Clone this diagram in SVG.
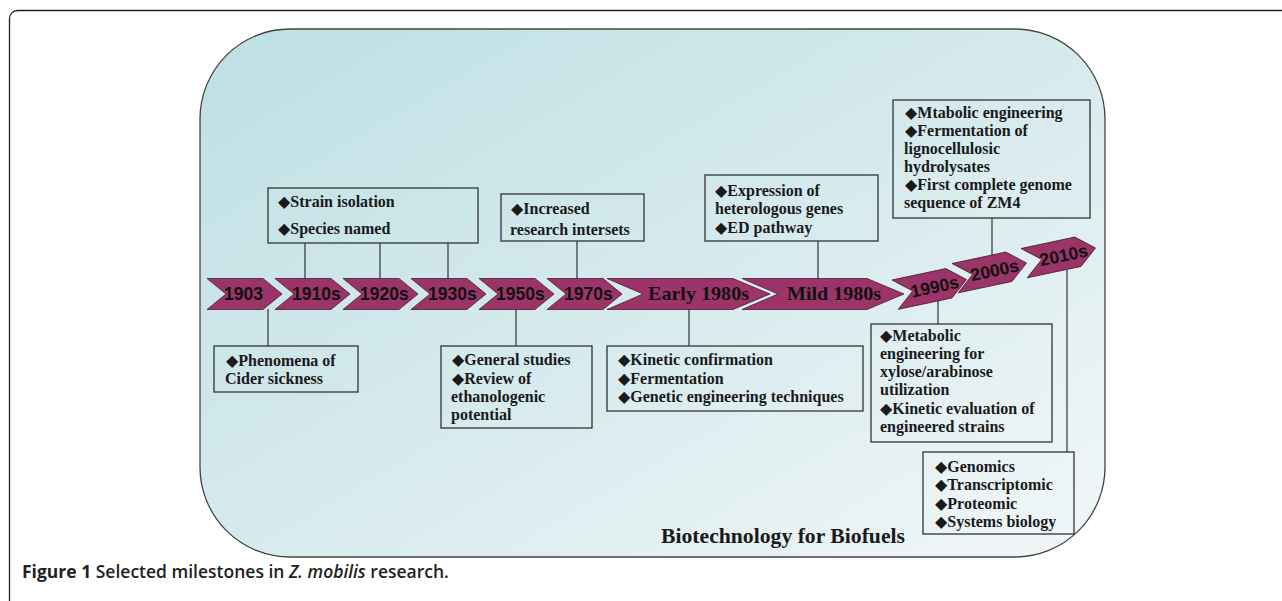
<svg xmlns="http://www.w3.org/2000/svg" width="1282" height="601" viewBox="0 0 1282 601">
<defs>
<linearGradient id="bg" x1="0" y1="0" x2="1" y2="1">
<stop offset="0" stop-color="#bddfe3"/>
<stop offset="0.5" stop-color="#d6eaed"/>
<stop offset="1" stop-color="#f2f7f8"/>
</linearGradient>
<path id="chev" d="M0 0 H55 L73 15 L55 30 H0 L18 15 Z"/>
</defs>
<style>
.chev{fill:#9b3468;stroke:#4a1c33;stroke-width:0.8}
.yr{font-family:"Liberation Sans",Arial,sans-serif;font-weight:bold;font-size:17.5px;fill:#111}
.yrs{font-family:"Liberation Serif","Times New Roman",serif;font-weight:bold;font-size:19px;fill:#111}
.box{fill:none;stroke:#333;stroke-width:1.3}
.t{font-family:"Liberation Serif","DejaVu Sans",serif;font-weight:bold;font-size:16px;fill:#1a1a1a}
.con line{stroke:#333;stroke-width:1.2}
</style>
<rect x="9.5" y="10.5" width="1300" height="620" rx="8" fill="#fff" stroke="#222" stroke-width="1.3"/>
<rect id="panel" x="200" y="29" width="905" height="528" rx="90" fill="url(#bg)" stroke="#444" stroke-width="1.3"/>
<g class="con">
<line x1="305" y1="243" x2="305" y2="279"/>
<line x1="380" y1="243" x2="380" y2="279"/>
<line x1="448" y1="243" x2="448" y2="279"/>
<line x1="577" y1="241" x2="577" y2="279"/>
<line x1="818" y1="241" x2="818" y2="279"/>
<line x1="992" y1="218" x2="992" y2="255"/>
<line x1="268" y1="309" x2="268" y2="346"/>
<line x1="516" y1="309" x2="516" y2="346"/>
<line x1="689" y1="309" x2="689" y2="346"/>
<line x1="938" y1="300" x2="938" y2="324"/>
<line x1="1067" y1="270" x2="1067" y2="452"/>
</g>
<g id="c1903"><path class="chev" d="M207 278.5 h56 l19 15.5 l-19 15.5 h-56 l19 -15.5 z"/><text class="yr" x="224" y="300">1903</text></g>
<g id="c1910"><path class="chev" d="M275 278.5 h56 l19 15.5 l-19 15.5 h-56 l19 -15.5 z"/><text class="yr" x="292" y="300">1910s</text></g>
<g id="c1920"><path class="chev" d="M343 278.5 h56 l19 15.5 l-19 15.5 h-56 l19 -15.5 z"/><text class="yr" x="360" y="300">1920s</text></g>
<g id="c1930"><path class="chev" d="M411 278.5 h56 l19 15.5 l-19 15.5 h-56 l19 -15.5 z"/><text class="yr" x="428" y="300">1930s</text></g>
<g id="c1950"><path class="chev" d="M479 278.5 h56 l19 15.5 l-19 15.5 h-56 l19 -15.5 z"/><text class="yr" x="496" y="300">1950s</text></g>
<g id="c1970"><path class="chev" d="M547 278.5 h56 l19 15.5 l-19 15.5 h-56 l19 -15.5 z"/><text class="yr" x="564" y="300">1970s</text></g>
<g id="cEarly"><path class="chev" d="M607 278.5 H733 L770 294 L733 309.5 H607 L643 294 Z"/><text class="yrs" x="648" y="300" textLength="101" lengthAdjust="spacingAndGlyphs">Early 1980s</text></g>
<g id="cMild"><path class="chev" d="M742 278.5 H867 L904 294 L867 309.5 H742 L778 294 Z"/><text class="yrs" x="787" y="300" textLength="94" lengthAdjust="spacingAndGlyphs">Mild 1980s</text></g>
<g id="c1990" transform="translate(892 280) rotate(-12)"><use href="#chev" class="chev"/><text class="yr" x="16" y="21.5">1990s</text></g>
<g id="c2000" transform="translate(952 263.5) rotate(-12)"><use href="#chev" class="chev"/><text class="yr" x="16" y="21.5">2000s</text></g>
<g id="c2010" transform="translate(1021 248.5) rotate(-12)"><use href="#chev" class="chev"/><text class="yr" x="16" y="21.5">2010s</text></g>
<g id="bStrain"><rect class="box" x="268" y="188" width="210" height="55"/>
<text class="t" x="278" y="207">◆Strain isolation</text>
<text class="t" x="278" y="234">◆Species named</text></g>
<g id="bIncreased"><rect class="box" x="501" y="194" width="143" height="47"/>
<text class="t" x="511" y="214">◆Increased</text>
<text class="t" x="510" y="235">research intersets</text></g>
<g id="bExpression"><rect class="box" x="705" y="175" width="173" height="66"/>
<text class="t" x="715" y="196">◆Expression of</text>
<text class="t" x="715" y="214">heterologous genes</text>
<text class="t" x="715" y="233">◆ED pathway</text></g>
<g id="bMetabolicEng"><rect class="box" x="893" y="100" width="197" height="118"/>
<text class="t" x="905" y="118">◆Mtabolic engineering</text>
<text class="t" x="905" y="136">◆Fermentation of</text>
<text class="t" x="904" y="154">lignocellulosic</text>
<text class="t" x="904" y="172">hydrolysates</text>
<text class="t" x="905" y="190">◆First complete genome</text>
<text class="t" x="904" y="208">sequence of ZM4</text></g>
<g id="bPhenomena"><rect class="box" x="214" y="346" width="144" height="46"/>
<text class="t" x="226" y="366">◆Phenomena of</text>
<text class="t" x="225" y="384">Cider sickness</text></g>
<g id="bGeneral"><rect class="box" x="441" y="346" width="151" height="82"/>
<text class="t" x="452" y="365">◆General studies</text>
<text class="t" x="452" y="384">◆Review of</text>
<text class="t" x="451" y="402">ethanologenic</text>
<text class="t" x="451" y="420">potential</text></g>
<g id="bKinetic"><rect class="box" x="607" y="346" width="256" height="65"/>
<text class="t" x="618" y="365">◆Kinetic confirmation</text>
<text class="t" x="618" y="384">◆Fermentation</text>
<text class="t" x="618" y="402">◆Genetic engineering techniques</text></g>
<g id="bXylose"><rect class="box" x="871" y="324" width="181" height="118"/>
<text class="t" x="880" y="341">◆Metabolic</text>
<text class="t" x="880" y="359">engineering for</text>
<text class="t" x="880" y="377">xylose/arabinose</text>
<text class="t" x="880" y="395">utilization</text>
<text class="t" x="880" y="414">◆Kinetic evaluation of</text>
<text class="t" x="880" y="432">engineered strains</text></g>
<g id="bOmics"><rect class="box" x="923" y="452" width="151" height="82"/>
<text class="t" x="935" y="472">◆Genomics</text>
<text class="t" x="935" y="490">◆Transcriptomic</text>
<text class="t" x="935" y="509">◆Proteomic</text>
<text class="t" x="935" y="527">◆Systems biology</text></g>
<text x="661" y="543" font-family="Liberation Serif, serif" font-weight="bold" font-size="20.5" fill="#1a1a1a" textLength="244" lengthAdjust="spacingAndGlyphs">Biotechnology for Biofuels</text>
<text x="22" y="578" font-family="Open Sans, Liberation Sans, sans-serif" font-size="17.5" fill="#222" font-weight="600"><tspan font-weight="bold">Figure 1</tspan> Selected milestones in <tspan font-style="italic">Z. mobilis</tspan> research.</text>
</svg>
